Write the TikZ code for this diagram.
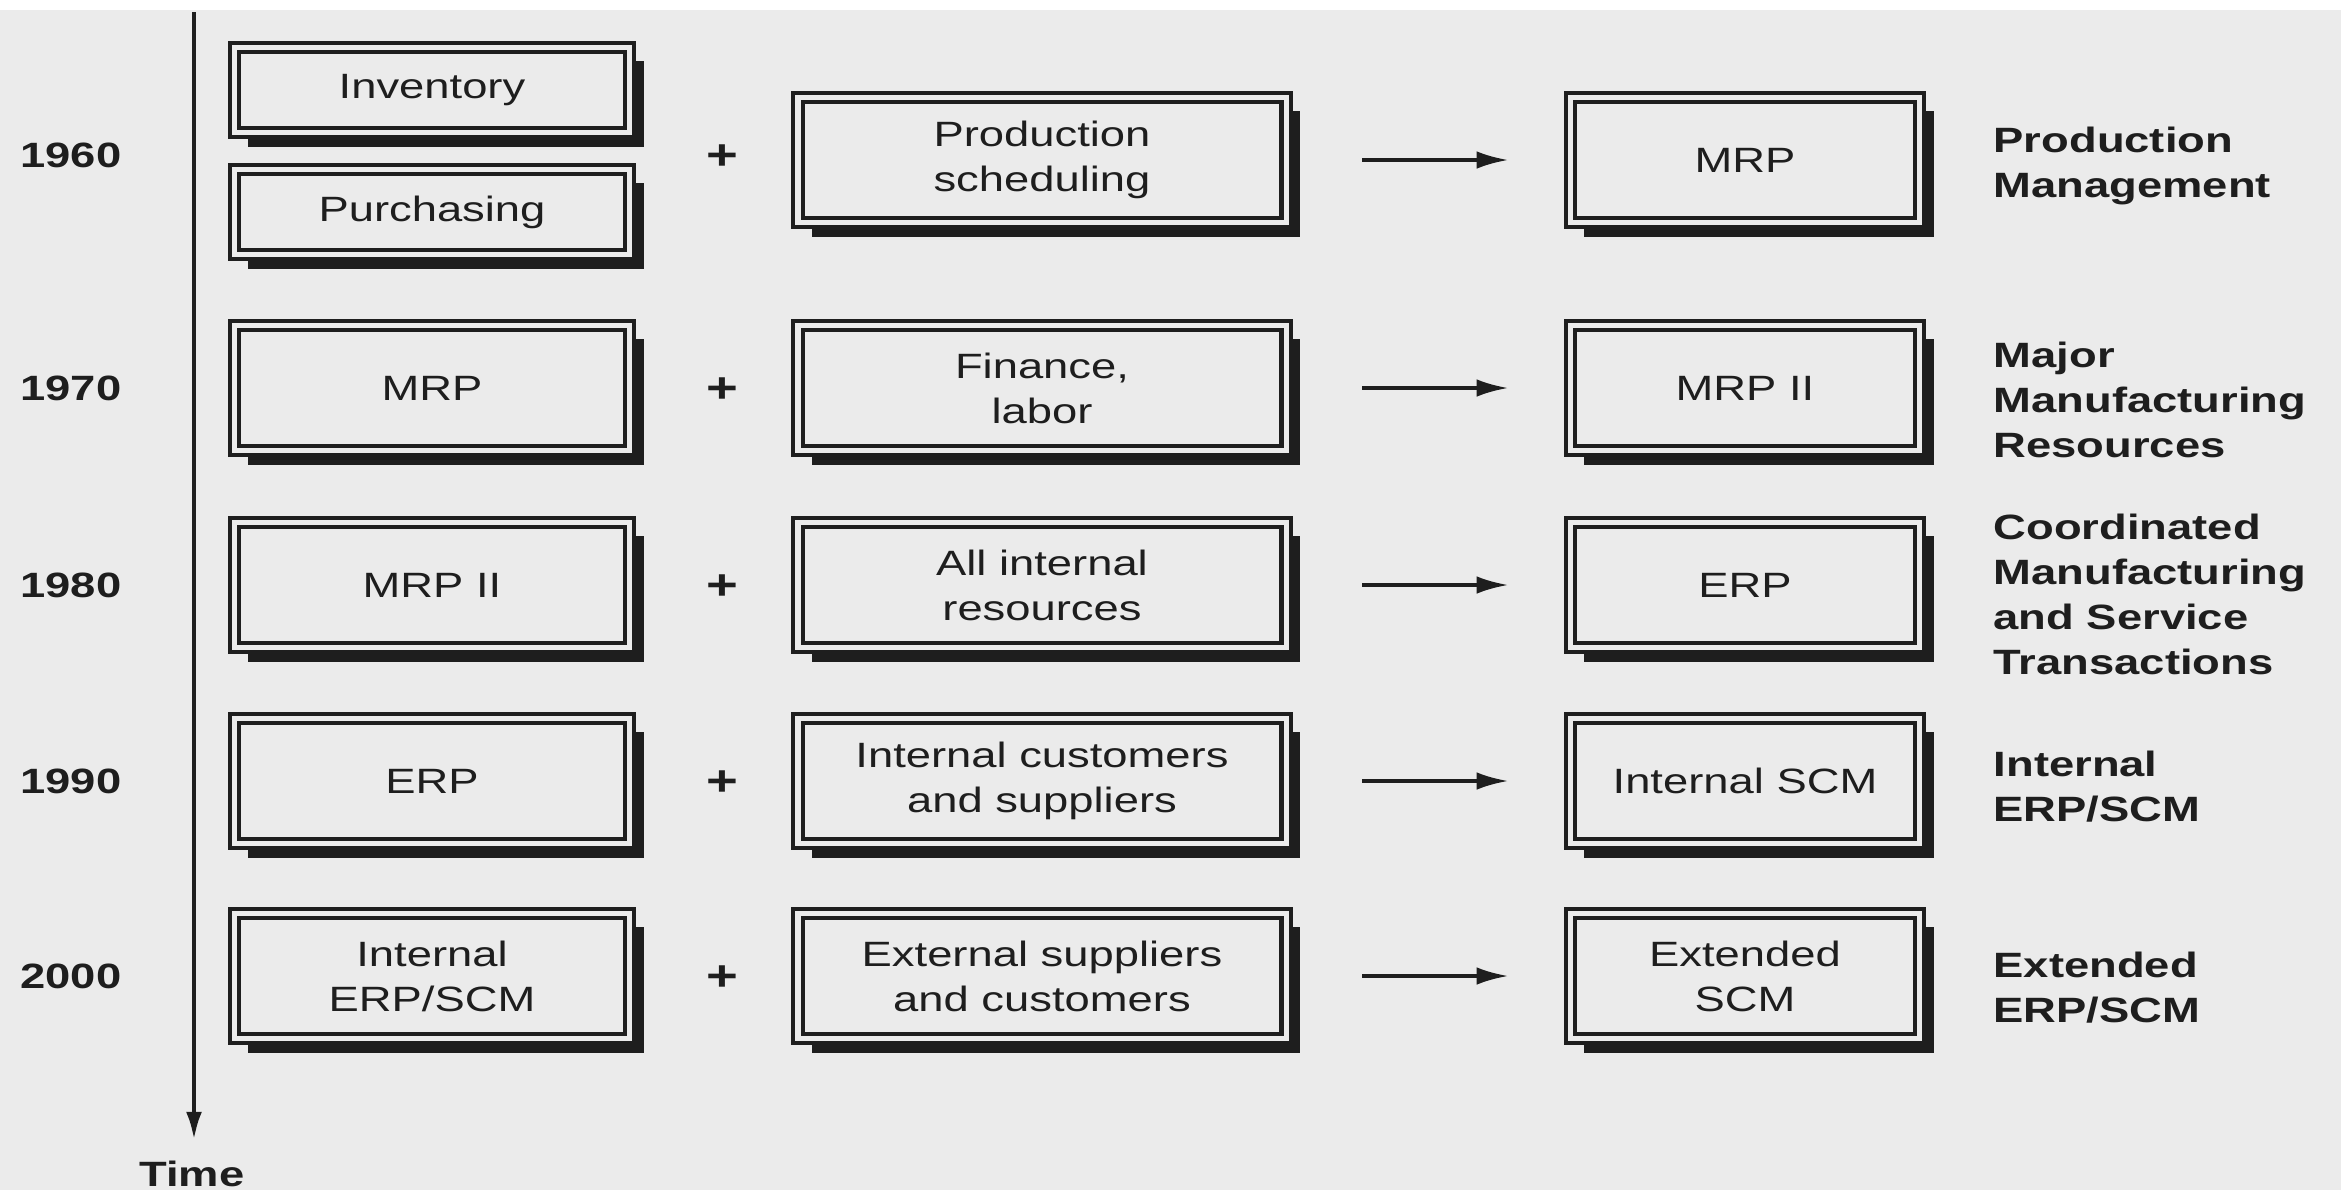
\documentclass[tikz,border=0pt]{standalone}
\usepackage{fontspec}
\setmainfont{Liberation Sans}[FakeStretch=1.29]
\usetikzlibrary{shadows,arrows.meta}
\definecolor{bg}{HTML}{EBEBEB}
\definecolor{ink}{HTML}{1E1E1E}
\newcommand\fsz{\fontsize{10}{12.8}\selectfont}
\begin{document}
\begin{tikzpicture}[x=0.01cm,y=-0.01cm,
  box/.style={draw=ink, line width=1.2pt, double=bg, double distance=1.5pt, fill=bg,
    align=center, font=\fsz, text=ink, inner sep=0pt,
    drop shadow={shadow xshift=0.14cm, shadow yshift=-0.14cm, fill=ink, opacity=1}},
  lbox/.style={box, minimum width=3.95cm, minimum height=1.25cm},
  mbox/.style={box, minimum width=4.88cm, minimum height=1.25cm},
  rbox/.style={box, minimum width=3.49cm, minimum height=1.25cm},
  sbox/.style={box, minimum width=3.95cm, minimum height=0.85cm},
  year/.style={font=\fsz\bfseries, text=ink, inner sep=0pt},
  plus/.style={font=\fontsize{12}{14}\selectfont\bfseries, text=ink, inner sep=0pt},
  label/.style={font=\fsz\bfseries, text=ink, inner sep=0pt, anchor=west, align=left},
  conn/.style={draw=ink, line width=1pt, -{Latex[length=9pt,width=5pt]}, shorten <=0.74cm, shorten >=0.6cm},
  axis/.style={draw=ink, line width=1.2pt, -{Latex[length=8pt,width=4.5pt]}}
]
\fill[white] (0,0) rectangle (2341,1190);
\fill[bg] (0,10) rectangle (2341,1190);
\useasboundingbox (0,0) rectangle (2341,1190);

% time axis
\coordinate (axtop) at (194,12);
\coordinate (axend) at (194,1140);
\draw[axis] (axtop) -- (axend);
\node[year] (time) at (192,1174) {Time};

% years
\node[year] (y1) at (71,155) {1960};
\node[year] (y2) at (71,388) {1970};
\node[year] (y3) at (71,585) {1980};
\node[year] (y4) at (71,781) {1990};
\node[year] (y5) at (71,976) {2000};

% left column
\node[sbox] (inv) at (432,90) {Inventory};
\node[sbox] (pur) at (432,212) {Purchasing};
\node[lbox] (l2) at (432,388) {MRP};
\node[lbox] (l3) at (432,585) {MRP II};
\node[lbox] (l4) at (432,781) {ERP};
\node[lbox] (l5) at (432,976) {Internal\\ERP/SCM};

% plus signs
\node[plus] (p1) at (722,157) {+};
\node[plus] (p2) at (722,390) {+};
\node[plus] (p3) at (722,587) {+};
\node[plus] (p4) at (722,783) {+};
\node[plus] (p5) at (722,978) {+};

% middle column
\node[mbox] (m1) at (1042,160) {Production\\scheduling};
\node[mbox] (m2) at (1042,388) {Finance,\\labor};
\node[mbox] (m3) at (1042,585) {All internal\\resources};
\node[mbox] (m4) at (1042,781) {Internal customers\\and suppliers};
\node[mbox] (m5) at (1042,976) {External suppliers\\and customers};

% right column
\node[rbox] (r1) at (1745,160) {MRP};
\node[rbox] (r2) at (1745,388) {MRP II};
\node[rbox] (r3) at (1745,585) {ERP};
\node[rbox] (r4) at (1745,781) {Internal SCM};
\node[rbox] (r5) at (1745,976) {Extended\\SCM};

% arrows
\draw[conn] (m1.east) -- (r1.west);
\draw[conn] (m2.east) -- (r2.west);
\draw[conn] (m3.east) -- (r3.west);
\draw[conn] (m4.east) -- (r4.west);
\draw[conn] (m5.east) -- (r5.west);

% right labels
\node[label] (t1) at (1993,166) {Production\\Management};
\node[label] (t2) at (1993,400) {Major\\Manufacturing\\Resources};
\node[label] (t3) at (1993,594) {Coordinated\\Manufacturing\\and Service\\Transactions};
\node[label] (t4) at (1993,787) {Internal\\ERP/SCM};
\node[label] (t5) at (1993,988) {Extended\\ERP/SCM};
\end{tikzpicture}
\end{document}
